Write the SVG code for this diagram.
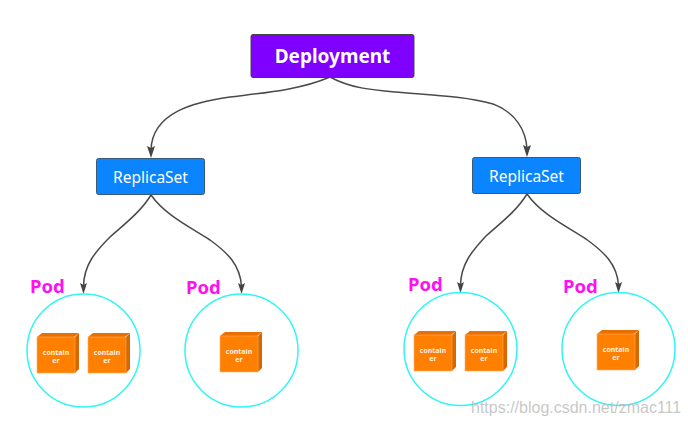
<svg xmlns="http://www.w3.org/2000/svg" width="688" height="426" viewBox="0 0 688 426">
<style>
.edge{fill:none;stroke:#4a4a4a;stroke-width:1.5}
.ah{fill:#444}
.pod{fill:none;stroke:#30f5f5;stroke-width:1.5}
.pl{font:bold 18.500px "Noto Sans","Open Sans","Liberation Sans",sans-serif;fill:#ff10f0}
.f{fill:#ff8000;stroke:#ffb066;stroke-width:.6}.t{fill:#e86f00}.s{fill:#d96600}
.c{font:bold 7px "Noto Sans","Liberation Sans",sans-serif;fill:#fff0e0;text-anchor:middle}
.rs{fill:#0a84ff;stroke:#3b5a78;stroke-width:1}
.rt{font:15.500px "Noto Sans","Open Sans","Liberation Sans",sans-serif;fill:#fff;text-anchor:middle}
</style>
<defs>
<g id="cube">
<path class="t" d="M0 4L5 0H42L37 4Z"/><path class="s" d="M38 4L42 0V36L38 40Z"/><rect class="f" y="4" width="38" height="36"/>
<text class="c" x="19" y="21.500">contain</text><text class="c" x="19" y="29.500">er</text>
</g>
</defs>
<rect width="688" height="426" fill="#fff"/>
<g id="connectors">
<path class="edge" d="M330 77C300 90 262 93 230 97C195 102 152 112 151 150"/>
<path class="edge" d="M330 77C350 88 372 90 395 92C430 95 465 96 493 104C515 112 526 130 527 149"/>
<path class="edge" d="M151 195C140 213 122 226 110 237C95 252 84 265 83.500 286"/>
<path class="edge" d="M151 195C165 215 190 227 210 240C228 253 240 265 241.500 286"/>
<path class="edge" d="M527 194C516 212 498 225 486 236C472 251 461 264 460.500 285"/>
<path class="edge" d="M527 194C541 214 566 226 586 239C604 252 617 264 618.500 285"/>
<g class="ah"><path d="M147 146L151 148 155 146 151 158Z"/><path d="M523 145L527 147 531 145 527 157Z"/><path d="M80 283L83.500 285 87 283 83.500 294Z"/><path d="M238 283L241.500 285 245 283 241.500 294Z"/><path d="M457 282L460.500 284 464 282 460.500 293Z"/><path d="M615 282L618.500 284 622 282 618.500 293Z"/></g>
</g>
<g id="deployment"><rect x="251" y="34.500" width="163" height="43" rx="2" fill="#7f00ff" stroke="#444"/><text x="332.500" y="63" text-anchor="middle" style="font:bold 19px 'Noto Sans','Open Sans','Liberation Sans',sans-serif;fill:#fff">Deployment</text></g>
<g id="replicaset-left"><rect class="rs" x="96.500" y="158.500" width="108" height="36" rx="2"/><text class="rt" x="150.500" y="183">ReplicaSet</text></g>
<g id="replicaset-right"><rect class="rs" x="472.500" y="157.500" width="108" height="36" rx="2"/><text class="rt" x="526.500" y="181.500">ReplicaSet</text></g>
<g id="pod-1"><circle class="pod" cx="83.500" cy="350.500" r="56.500"/><text class="pl" x="30" y="293">Pod</text><use href="#cube" x="37" y="333"/><use href="#cube" x="88" y="333"/></g>
<g id="pod-2"><circle class="pod" cx="241.500" cy="350.500" r="56.500"/><text class="pl" x="186" y="294">Pod</text><use href="#cube" x="220" y="332"/></g>
<g id="pod-3"><circle class="pod" cx="460.500" cy="349" r="56.500"/><text class="pl" x="408" y="291">Pod</text><use href="#cube" x="414" y="331"/><use href="#cube" x="465" y="331"/></g>
<g id="pod-4"><circle class="pod" cx="618.500" cy="349" r="56.500"/><text class="pl" x="563" y="293">Pod</text><use href="#cube" x="597" y="330"/></g>
<text x="471" y="413" style="font:16px 'Liberation Sans',Arial,sans-serif;fill:#bdbdbd;fill-opacity:.85">https://blog.csdn.net/zmac111</text>
</svg>
